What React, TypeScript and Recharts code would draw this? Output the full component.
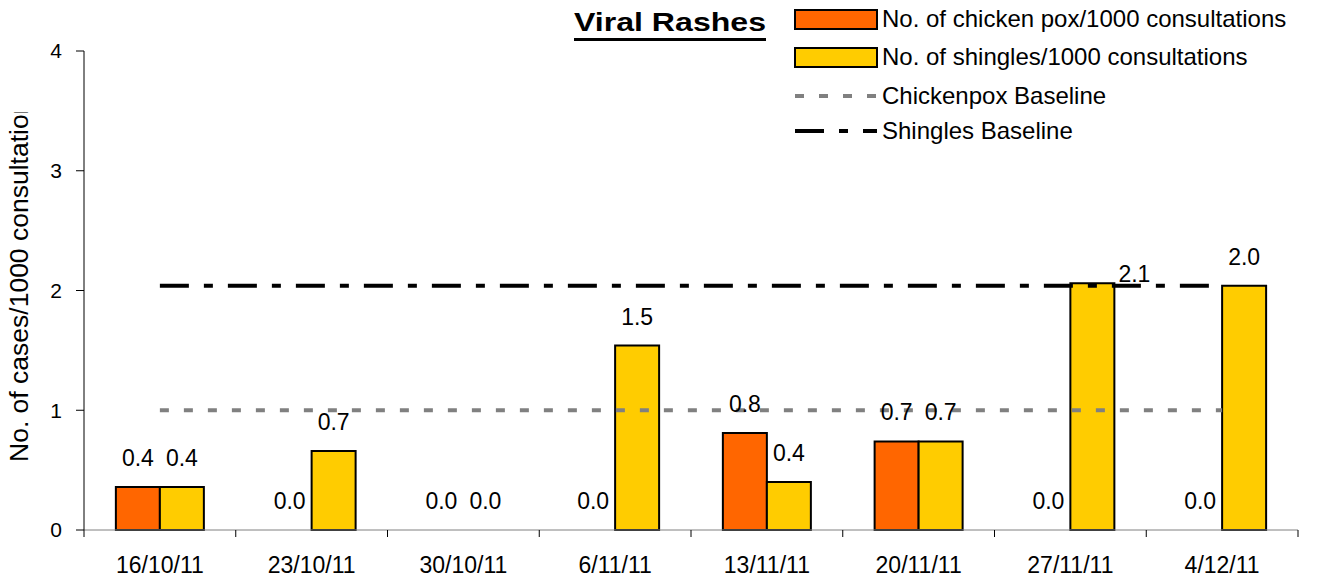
import {
  Bar,
  ComposedChart,
  LabelList,
  Line,
  Rectangle,
  XAxis,
  YAxis,
} from "recharts";

const dates = ["16/10/11", "23/10/11", "30/10/11", "6/11/11", "13/11/11", "20/11/11", "27/11/11", "4/12/11"];
const chickenPox = [0.36, 0, 0, 0, 0.81, 0.74, 0, 0];
const shingles = [0.36, 0.66, 0, 1.54, 0.4, 0.74, 2.06, 2.04];
const chickenpoxBaseline = [1, 1, 1, 1, 1, 1, 1, 1];
const shinglesBaseline = [2.04, 2.04, 2.04, 2.04, 2.04, 2.04, 2.04, 2.04];
const yTicks = [0, 1, 2, 3, 4];

const seriesNames = [
  "No. of chicken pox/1000 consultations",
  "No. of shingles/1000 consultations",
  "Chickenpox Baseline",
  "Shingles Baseline",
];

const FONT = "'Liberation Sans', Arial, sans-serif";
const ORANGE = "#FF6600";
const YELLOW = "#FFCC00";
const GREY = "#808080";

const chartData = dates.map((date, i) => ({
  date,
  chickenPox: chickenPox[i],
  shingles: shingles[i],
  cpBase: chickenpoxBaseline[i],
  shBase: shinglesBaseline[i],
}));

// custom tick: label plus a tick mark at the category boundaries (like excel)
function DateTick(props: any) {
  const { x, y, payload, index, visibleTicksCount, width } = props;
  const half = payload?.offset ?? width / dates.length / 2;
  const axisY = y - 27;
  const isLast = index === (visibleTicksCount ?? dates.length) - 1;
  return (
    <g>
      <line x1={x - half} x2={x - half} y1={axisY} y2={axisY + 7} stroke="#000" />
      {isLast ? <line x1={x + half} x2={x + half} y1={axisY} y2={axisY + 7} stroke="#000" /> : null}
      <text x={x} y={y} dy="0.71em" textAnchor="middle" fontSize={23} fontFamily={FONT} fill="#000">
        {payload.value}
      </text>
    </g>
  );
}

// zero bars get a tiny min size so their labels still show; don't draw them
function BarShape(props: any) {
  if (!props.height || props.height < 0.5) return <g />;
  return <Rectangle {...props} />;
}

const makeLabel = (series: "cp" | "sh") => (props: any) => {
  const { x, y, width, value, index } = props;
  let dx = 0;
  let dy = 0;
  // the 27/11 shingles label was dragged off the bar in the original
  if (series === "sh" && index === 6) {
    dx = 42;
    dy = 20;
  }
  return (
    <text
      x={x + width / 2 + dx}
      y={y - 21 + dy}
      textAnchor="middle"
      fontSize={23}
      fontFamily={FONT}
      fill="#000"
    >
      {Number(value).toFixed(1)}
    </text>
  );
};

export default function App() {
  return (
    <div style={{ position: "absolute", left: 0, top: 0, width: 1335, height: 580, background: "#fff" }}>
      <ComposedChart
        width={1335}
        height={580}
        data={chartData}
        margin={{ top: 51, right: 37, bottom: 0, left: 0 }}
        barCategoryGap="21%"
        barGap={0}
      >
        <XAxis
          dataKey="date"
          height={50}
          axisLine={{ stroke: GREY }}
          tickLine={false}
          tickSize={7}
          tickMargin={20}
          tick={<DateTick />}
          interval={0}
        />
        <YAxis
          width={84}
          domain={[0, 4]}
          ticks={yTicks}
          axisLine={{ stroke: "#000" }}
          tickLine={{ stroke: "#000" }}
          tickSize={8}
          tickMargin={14}
          tick={{ fontSize: 21, fontFamily: FONT, fill: "#000" }}
        />
        <Bar
          dataKey="chickenPox"
          name={seriesNames[0]}
          fill={ORANGE}
          stroke="#000"
          strokeWidth={2}
          minPointSize={0.01}
          shape={BarShape}
          isAnimationActive={false}
        >
          <LabelList dataKey="chickenPox" content={makeLabel("cp")} />
        </Bar>
        <Bar
          dataKey="shingles"
          name={seriesNames[1]}
          fill={YELLOW}
          stroke="#000"
          strokeWidth={2}
          minPointSize={0.01}
          shape={BarShape}
          isAnimationActive={false}
        >
          <LabelList dataKey="shingles" content={makeLabel("sh")} />
        </Bar>
        <Line
          type="linear"
          dataKey="cpBase"
          name={seriesNames[2]}
          stroke={GREY}
          strokeWidth={4}
          strokeDasharray="9 15"
          dot={false}
          activeDot={false}
          isAnimationActive={false}
        />
        <Line
          type="linear"
          dataKey="shBase"
          name={seriesNames[3]}
          stroke="#000"
          strokeWidth={4}
          strokeDasharray="29 15 9 15"
          dot={false}
          activeDot={false}
          isAnimationActive={false}
        />
      </ComposedChart>

      <svg
        width={1335}
        height={580}
        style={{ position: "absolute", left: 0, top: 0, pointerEvents: "none" }}
        fontFamily={FONT}
      >
        <defs>
          <clipPath id="ylabel-clip">
            <rect x={0} y={112} width={60} height={468} />
          </clipPath>
        </defs>
        <g clipPath="url(#ylabel-clip)">
          <text x={28} y={462} transform="rotate(-90, 28, 462)" fontSize={26.5} fill="#000">
            No. of cases/1000 consultations
          </text>
        </g>

        <text x={574} y={31} fontSize={26} fontWeight="bold" textLength={192} lengthAdjust="spacingAndGlyphs" fill="#000">
          Viral Rashes
        </text>
        <line x1={574} x2={766} y1={39.5} y2={39.5} stroke="#000" strokeWidth={3} />

        <rect x={795} y={10} width={82} height={19} fill={ORANGE} stroke="#000" strokeWidth={2} />
        <text x={882} y={27} fontSize={24} fill="#000">{seriesNames[0]}</text>
        <rect x={795} y={48} width={82} height={19} fill={YELLOW} stroke="#000" strokeWidth={2} />
        <text x={882} y={65} fontSize={24} fill="#000">{seriesNames[1]}</text>
        <line x1={795} x2={877} y1={96} y2={96} stroke={GREY} strokeWidth={4} strokeDasharray="9 15" />
        <text x={882} y={104} fontSize={24} fill="#000">{seriesNames[2]}</text>
        <line x1={795} x2={877} y1={131} y2={131} stroke="#000" strokeWidth={4} strokeDasharray="29 15 9 15" />
        <text x={882} y={139} fontSize={24} fill="#000">{seriesNames[3]}</text>
      </svg>
    </div>
  );
}
